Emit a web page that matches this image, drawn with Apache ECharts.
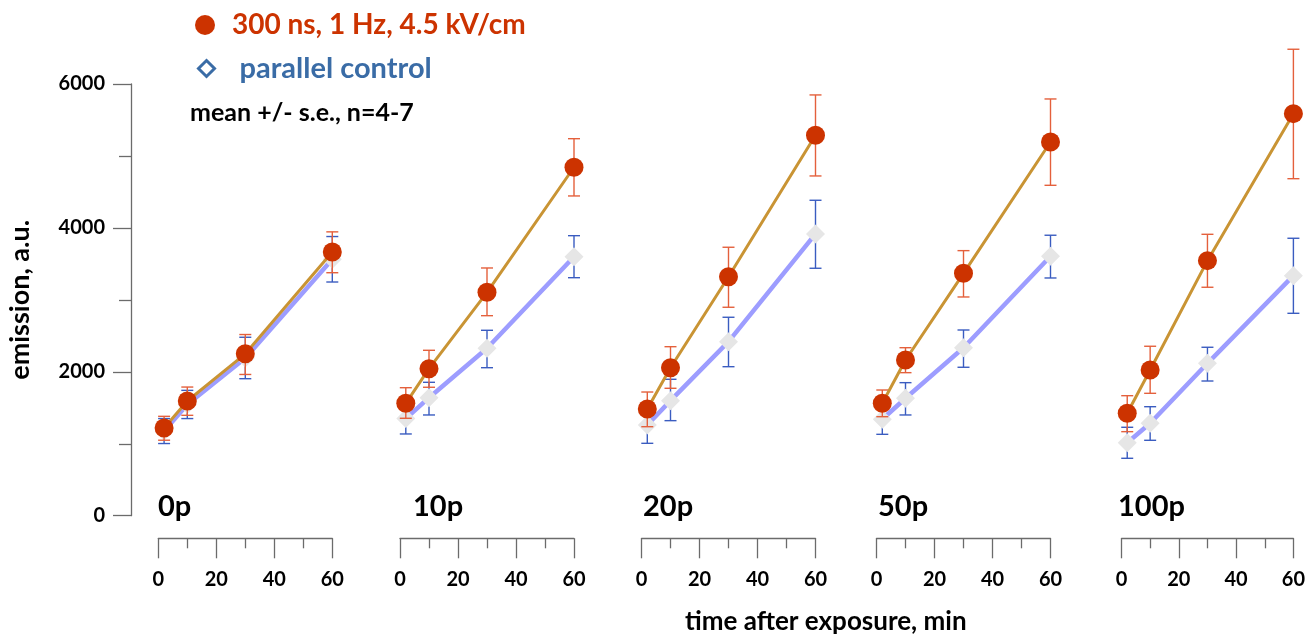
<!DOCTYPE html>
<html>
<head>
<meta charset="utf-8">
<script src="https://cdn.jsdelivr.net/npm/echarts@6/dist/echarts.min.js"></script>
<style>
html,body{margin:0;padding:0;background:#fff;}
#chart{width:1308px;height:635px;}
</style>
</head>
<body>
<div id="chart"></div>
<script>
// ---- data ----
const panels = ['0p', '10p', '20p', '50p', '100p'];
const times = [2, 10, 30, 60];
const xTicks = [0, 20, 40, 60];
const yTicks = [0, 2000, 4000, 6000];

const redName = '300 ns, 1 Hz, 4.5 kV/cm';
const blueName = 'parallel control';

const redMean = [
  [1219, 1594, 2250, 3664],
  [1562, 2043, 3105, 4843],
  [1483, 2057, 3322, 5288],
  [1562, 2164, 3369, 5194],
  [1423, 2025, 3545, 5588]
];
const redLow = [
  [1049, 1395, 1963, 3377],
  [1354, 1785, 2780, 4444],
  [1237, 1771, 2897, 4722],
  [1376, 1988, 3040, 4592],
  [1168, 1701, 3175, 4684]
];
const redHigh = [
  [1381, 1788, 2518, 3945],
  [1779, 2299, 3443, 5240],
  [1719, 2349, 3731, 5848],
  [1747, 2335, 3684, 5792],
  [1668, 2355, 3911, 6483]
];
const blueMean = [
  [1176, 1546, 2192, 3564],
  [1350, 1640, 2327, 3600],
  [1261, 1599, 2419, 3916],
  [1340, 1632, 2335, 3606],
  [1015, 1284, 2118, 3336]
];
const blueLow = [
  [1003, 1350, 1904, 3248],
  [1136, 1400, 2057, 3308],
  [1006, 1321, 2071, 3439],
  [1131, 1400, 2063, 3304],
  [798, 1048, 1872, 2813]
];
const blueHigh = [
  [1350, 1742, 2480, 3880],
  [1564, 1854, 2577, 3892],
  [1516, 1896, 2758, 4384],
  [1549, 1849, 2581, 3898],
  [1229, 1515, 2341, 3856]
];

// ---- layout / style ----
const FONT = 'Lato';
const gridLeft = [158.3, 400, 641.5, 876.5, 1121.5];
const gridTop = 84;
const gridHeight = 431.7;
const gridWidth = 174;
const axisGray = '#6b6b6b';
const RED = '#CC3300';
const RED_ERR = '#E4603C';
const ORANGE = '#C99434';
const LAVENDER = '#9D9DFF';
const BLUE_ERR = '#3A5CC0';
const DIAMOND = '#E6E6E6';
const BLUE_TXT = '#3A6CA6';

function errRender(color) {
  return function (params, api) {
    const x = api.value(0), lo = api.value(1), hi = api.value(2);
    const p1 = api.coord([x, lo]);
    const p2 = api.coord([x, hi]);
    const w = 6;
    const st = { stroke: color, lineWidth: 1.4 };
    return {
      type: 'group',
      children: [
        { type: 'line', shape: { x1: p1[0], y1: p1[1], x2: p2[0], y2: p2[1] }, style: st },
        { type: 'line', shape: { x1: p1[0] - w, y1: p1[1], x2: p1[0] + w, y2: p1[1] }, style: st },
        { type: 'line', shape: { x1: p2[0] - w, y1: p2[1], x2: p2[0] + w, y2: p2[1] }, style: st }
      ]
    };
  };
}

const grids = panels.map((p, i) => ({ left: gridLeft[i], top: gridTop, width: gridWidth, height: gridHeight }));

const xAxes = panels.map((p, i) => ({
  type: 'value', gridIndex: i, min: xTicks[0], max: xTicks[xTicks.length - 1], interval: xTicks[1] - xTicks[0],
  offset: 22.6,
  axisLine: { show: true, onZero: false, lineStyle: { color: axisGray, width: 1.3 } },
  axisTick: { show: true, length: 20, lineStyle: { color: axisGray, width: 1.3 } },
  minorTick: { show: true, splitNumber: 2, length: 10, lineStyle: { color: axisGray, width: 1.3 } },
  splitLine: { show: false }, minorSplitLine: { show: false },
  axisLabel: { fontFamily: FONT, fontWeight: 'bold', fontSize: 20, color: '#000', margin: 31 }
}));

const yAxes = panels.map((p, i) => ({
  type: 'value', gridIndex: i, min: yTicks[0], max: yTicks[yTicks.length - 1], interval: yTicks[1] - yTicks[0],
  show: i === 0,
  offset: 27.3,
  name: i === 0 ? 'emission, a.u.' : '',
  nameLocation: 'middle', nameGap: 97,
  nameTextStyle: { fontFamily: FONT, fontWeight: 'bold', fontSize: 27, color: '#000' },
  axisLine: { show: true, onZero: false, lineStyle: { color: axisGray, width: 1.3 } },
  axisTick: { show: true, length: 18, lineStyle: { color: axisGray, width: 1.3 } },
  minorTick: { show: true, splitNumber: 2, length: 12, lineStyle: { color: axisGray, width: 1.3 } },
  splitLine: { show: false }, minorSplitLine: { show: false },
  axisLabel: { fontFamily: FONT, fontWeight: 'bold', fontSize: 20, color: '#000', margin: 26,
    formatter: v => String(v) }
}));

const series = [];
panels.forEach((p, i) => {
  series.push({
    type: 'custom', xAxisIndex: i, yAxisIndex: i, z: 1, clip: false, silent: true,
    renderItem: errRender(BLUE_ERR),
    encode: { x: 0, y: [1, 2] },
    data: times.map((t, k) => [t, blueLow[i][k], blueHigh[i][k]])
  });
  series.push({
    type: 'line', name: blueName, xAxisIndex: i, yAxisIndex: i, z: 2,
    symbol: 'diamond', symbolSize: 19,
    itemStyle: { color: DIAMOND },
    lineStyle: { color: LAVENDER, width: 4.5 },
    data: times.map((t, k) => [t, blueMean[i][k]])
  });
  series.push({
    type: 'custom', xAxisIndex: i, yAxisIndex: i, z: 3, clip: false, silent: true,
    renderItem: errRender(RED_ERR),
    encode: { x: 0, y: [1, 2] },
    data: times.map((t, k) => [t, redLow[i][k], redHigh[i][k]])
  });
  series.push({
    type: 'line', name: redName, xAxisIndex: i, yAxisIndex: i, z: 4,
    symbol: 'circle', symbolSize: 19,
    itemStyle: { color: RED },
    lineStyle: { color: ORANGE, width: 3 },
    data: times.map((t, k) => [t, redMean[i][k]])
  });
});

const panelLabelX = [158, 413, 643, 878, 1118];
const graphics = panels.map((p, i) => ({
  type: 'text', left: panelLabelX[i], top: 492,
  style: { text: p, fontFamily: FONT, fontWeight: 'bold', fontSize: 29, fill: '#000' }
}));
graphics.push({
  type: 'text', left: 190, top: 100,
  style: { text: 'mean +/- s.e., n=4-7', fontFamily: FONT, fontWeight: 'bold', fontSize: 25, fill: '#000' }
});
graphics.push({
  type: 'text', left: 685, top: 609,
  style: { text: 'time after exposure, min', fontFamily: FONT, fontWeight: 'bold', fontSize: 26, fill: '#000' }
});

const legendText = { fontFamily: FONT, fontWeight: 'bold' };
const option = {
  animation: false,
  backgroundColor: '#fff',
  grid: grids,
  xAxis: xAxes,
  yAxis: yAxes,
  legend: [
    {
      left: 195, top: 11, padding: 0, selectedMode: false, itemWidth: 20, itemHeight: 20,
      textStyle: Object.assign({}, legendText, { fontSize: 28, padding: [0, 0, 0, 12] }),
      data: [{ name: redName, icon: 'circle', itemStyle: { color: RED }, textStyle: { color: RED } }]
    },
    {
      left: 197, top: 54, padding: 0, selectedMode: false, itemWidth: 16, itemHeight: 16,
      textStyle: Object.assign({}, legendText, { fontSize: 29, padding: [0, 0, 0, 20] }),
      data: [{ name: blueName, icon: 'diamond', itemStyle: { color: '#fff', borderColor: BLUE_TXT, borderWidth: 3 }, textStyle: { color: BLUE_TXT } }]
    }
  ],
  graphic: graphics,
  series: series
};

const chart = echarts.init(document.getElementById('chart'), null, { renderer: 'canvas' });
chart.setOption(option);
</script>
</body>
</html>
